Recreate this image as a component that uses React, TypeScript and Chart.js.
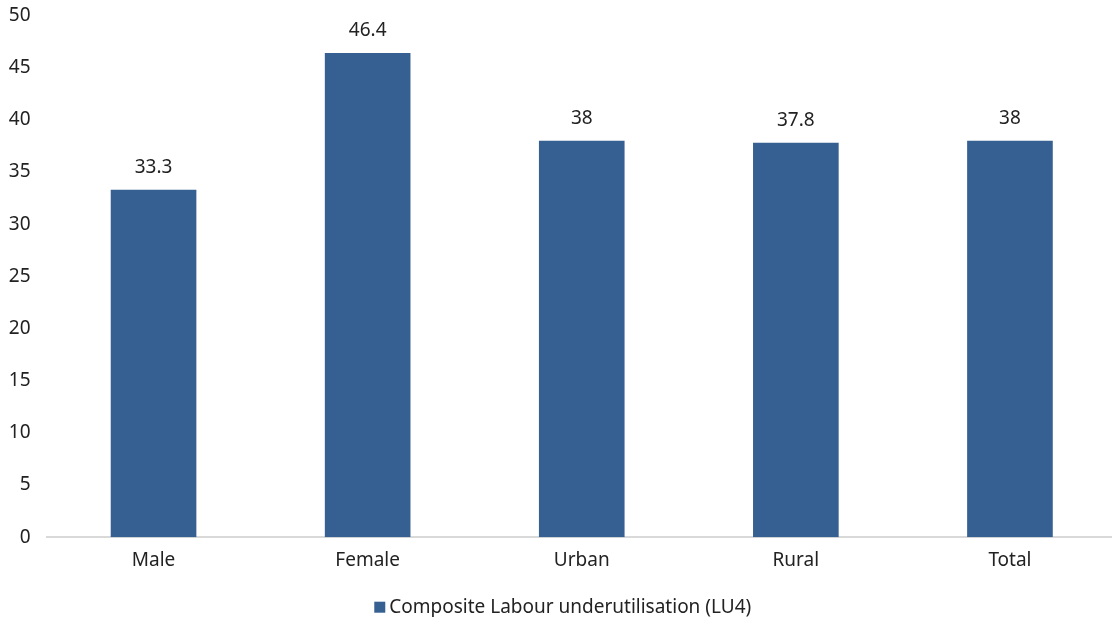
import React, { useEffect, useRef } from "react";
import { Chart, registerables } from "chart.js";

Chart.register(...registerables);

const categories = ["Male", "Female", "Urban", "Rural", "Total"];
const lu4Values = [33.3, 46.4, 38, 37.8, 38];
const seriesLabel = "Composite Labour underutilisation (LU4)";
const yTicks = [0, 5, 10, 15, 20, 25, 30, 35, 40, 45, 50];

const BAR_COLOR = "#366092";
const TEXT_COLOR = "#222222";
const FONT_FAMILY = "'Noto Sans', sans-serif";
const FONT_SIZE = 19;

// Writes each bar's value above its top.
const valueLabels = {
  id: "valueLabels",
  afterDatasetsDraw(chart: any) {
    const ctx = chart.ctx;
    const meta = chart.getDatasetMeta(0);
    ctx.save();
    ctx.font = `${FONT_SIZE}px ${FONT_FAMILY}`;
    ctx.fillStyle = TEXT_COLOR;
    ctx.textAlign = "center";
    ctx.textBaseline = "middle";
    meta.data.forEach((bar: any, i: number) => {
      ctx.fillText(String(lu4Values[i]), bar.x, bar.y - 22);
    });
    ctx.restore();
  },
};

// Single-entry legend below the category labels.
const bottomLegend = {
  id: "bottomLegend",
  afterDraw(chart: any) {
    const ctx = chart.ctx;
    const area = chart.chartArea;
    ctx.save();
    ctx.font = `${FONT_SIZE}px ${FONT_FAMILY}`;
    const box = 11;
    const gap = 4;
    const textW = ctx.measureText(seriesLabel).width;
    const total = box + gap + textW;
    const cx = (area.left + area.right) / 2 - 19;
    const x0 = cx - total / 2;
    const y = area.bottom + 70;
    ctx.fillStyle = BAR_COLOR;
    ctx.fillRect(x0, y - box / 2, box, box);
    ctx.fillStyle = TEXT_COLOR;
    ctx.textAlign = "left";
    ctx.textBaseline = "middle";
    ctx.fillText(seriesLabel, x0 + box + gap, y);
    ctx.restore();
  },
};

export default function App() {
  const canvasRef = useRef<HTMLCanvasElement | null>(null);

  useEffect(() => {
    document.body.style.margin = "0";
    document.body.style.overflow = "hidden";
    const canvas = canvasRef.current;
    if (!canvas) return;
    const chart = new Chart(canvas, {
      type: "bar",
      data: {
        labels: categories,
        datasets: [
          {
            label: seriesLabel,
            data: lu4Values,
            backgroundColor: BAR_COLOR,
            categoryPercentage: 1,
            barPercentage: 0.4,
          },
        ],
      },
      options: {
        animation: false,
        responsive: false,
        maintainAspectRatio: false,
        layout: { padding: { top: 0, right: 0, left: 0, bottom: 33 } },
        plugins: {
          legend: { display: false },
          tooltip: { enabled: false },
        },
        scales: {
          x: {
            grid: { display: false, drawTicks: false },
            border: { display: true, color: "#d9d9d9", width: 2 },
            ticks: {
              color: TEXT_COLOR,
              padding: 12,
              font: { family: FONT_FAMILY, size: FONT_SIZE },
            },
          },
          y: {
            min: 0,
            max: 50,
            afterFit(scale: any) {
              scale.width = 46.5;
            },
            afterBuildTicks(scale: any) {
              scale.ticks = yTicks.map((v) => ({ value: v }));
            },
            grid: { display: false, drawTicks: false },
            border: { display: false },
            ticks: {
              color: TEXT_COLOR,
              padding: 16,
              font: { family: FONT_FAMILY, size: FONT_SIZE },
            },
          },
        },
      },
      plugins: [valueLabels, bottomLegend],
    });
    return () => chart.destroy();
  }, []);

  return (
    <div style={{ position: "absolute", left: 0, top: -12, width: 1117, height: 629 }}>
      <canvas ref={canvasRef} width={1117} height={629} />
    </div>
  );
}
